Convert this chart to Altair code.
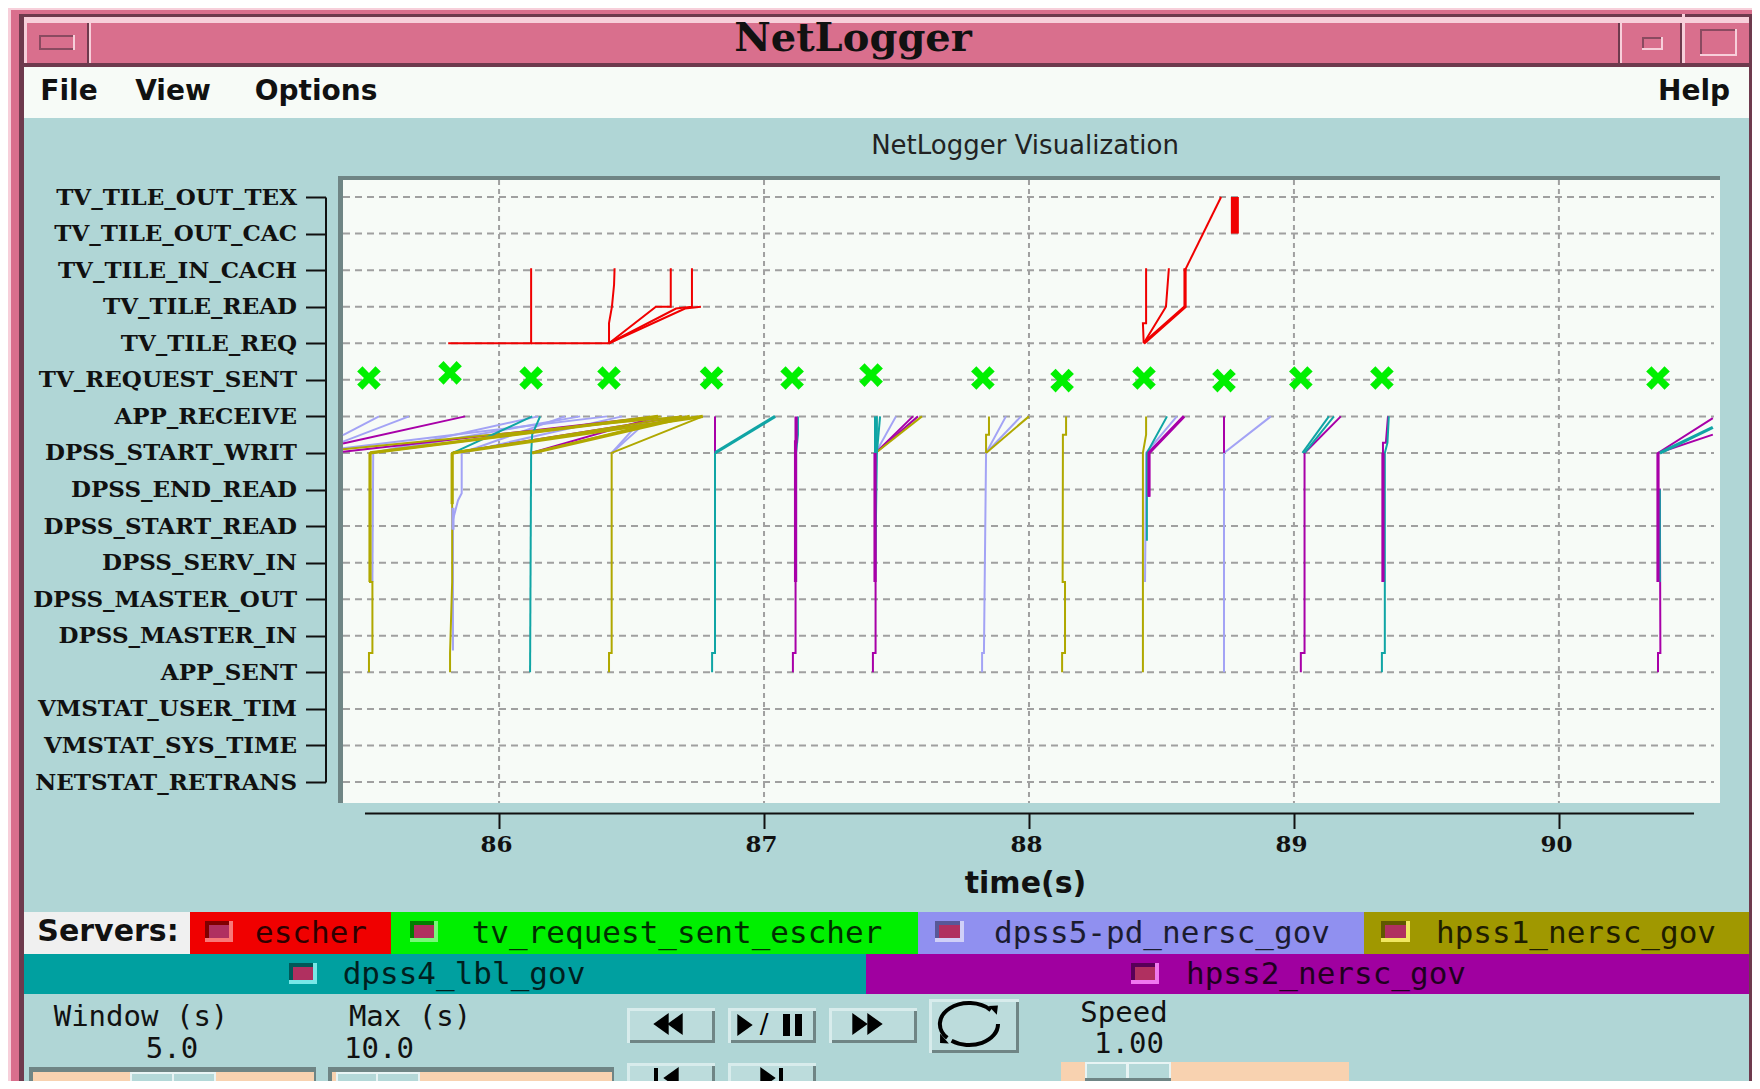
import json
import altair as alt
import pandas as pd

W, H = 1744, 1073
OFF = 8

categories = ["TV_TILE_OUT_TEX", "TV_TILE_OUT_CAC", "TV_TILE_IN_CACH", "TV_TILE_READ", "TV_TILE_REQ",
              "TV_REQUEST_SENT", "APP_RECEIVE", "DPSS_START_WRIT", "DPSS_END_READ", "DPSS_START_READ",
              "DPSS_SERV_IN", "DPSS_MASTER_OUT", "DPSS_MASTER_IN", "APP_SENT", "VMSTAT_USER_TIM",
              "VMSTAT_SYS_TIME", "NETSTAT_RETRANS"]
x_ticks = [86, 87, 88, 89, 90]

request_t = [85.509, 85.815, 86.121, 86.415, 86.802, 87.106, 87.404, 87.826, 88.125, 88.434, 88.736, 89.026, 89.332, 90.374]
request_row = [4.95, 4.81, 4.95, 4.95, 4.95, 4.95, 4.87, 4.95, 5.02, 4.95, 5.02, 4.95, 4.95, 4.95]

escher = [
    [(85.808, 4), (86.121, 4), (86.121, 1.95)],
    [(86.121, 4), (86.415, 4), (86.415, 3.45), (86.426, 3), (86.434, 2.4), (86.436, 1.95)],
    [(86.415, 4), (86.592, 3), (86.648, 3), (86.648, 1.95)],
    [(86.415, 4), (86.668, 3.05), (86.728, 3), (86.728, 1.95)],
    [(86.415, 4), (86.702, 3.05), (86.762, 3)],
    [(88.433, 4), (88.43, 3.45), (88.442, 3.45), (88.442, 1.95)],
    [(88.433, 4), (88.517, 3), (88.528, 1.95)],
    [(88.589, 2), (88.725, 0)],
]
escher_heavy = [
    [(88.433, 4), (88.589, 3), (88.589, 1.95)],
]
escher_bar = [
    [(88.777, 0), (88.777, 1)],
]

dpss5 = [
    [(85.411, 6.51), (85.547, 6)],
    [(85.411, 6.69), (85.660, 6)],
    [(85.411, 6.87), (86.408, 6)],
    [(85.525, 7), (86.147, 6)],
    [(85.525, 7), (86.306, 6)],
    [(85.859, 7), (86.249, 6)],
    [(85.859, 7), (86.464, 6)],
    [(86.425, 7), (86.58, 6)],
    [(86.425, 7), (86.55, 6)],
    [(85.522, 10.53), (85.525, 7)],
    [(85.826, 12.4), (85.826, 8.83), (85.845, 8.3), (85.859, 8.1), (85.859, 7)],
    [(87.823, 13), (87.823, 12.47), (87.830, 12.47), (87.838, 7), (87.913, 6)],
    [(87.838, 7), (87.970, 6)],
    [(87.421, 7), (87.498, 6)],
    [(88.438, 10.53), (88.442, 7), (88.558, 6)],
    [(88.736, 13), (88.736, 7), (88.913, 6)],
]
dpss5_heavy = [
    [(85.826, 9.1), (85.826, 8.5)],
]

hpss1 = [
    [(85.509, 13), (85.509, 12.47), (85.522, 12.47), (85.522, 10.53), (85.513, 10.53), (85.513, 7), (86.610, 6)],
    [(85.411, 6.9), (86.689, 6)],
    [(85.815, 13), (85.815, 12.47), (85.823, 10.53), (85.823, 7), (86.689, 6)],
    [(86.125, 7), (86.689, 6)],
    [(86.415, 13), (86.415, 12.47), (86.425, 12.47), (86.425, 7), (86.769, 6)],
    [(87.421, 7), (87.596, 6)],
    [(87.838, 7), (87.838, 6.5), (87.849, 6.5), (87.849, 6)],
    [(87.838, 7), (88.000, 6)],
    [(88.125, 13), (88.125, 12.47), (88.136, 12.47), (88.136, 10.53), (88.127, 10.53), (88.128, 7), (88.128, 6.5), (88.140, 6.5), (88.140, 6)],
    [(88.430, 13), (88.430, 7), (88.442, 6.5), (88.442, 6)],
]
hpss1_heavy = [
    [(85.513, 10.53), (85.513, 7)],
    [(85.823, 8.4), (85.823, 7)],
    [(85.826, 7), (86.769, 6)],
    [(85.513, 7), (86.60, 6)],
    [(86.125, 7), (86.72, 6)],
]

dpss4 = [
    [(85.826, 7), (86.125, 6)],
    [(86.121, 7), (86.125, 6.5), (86.155, 6)],
    [(86.117, 13), (86.121, 7)],
    [(86.804, 13), (86.804, 12.47), (86.815, 12.47), (86.815, 7)],
    [(87.121, 10.53), (87.121, 7), (87.128, 6.5), (87.128, 6)],
    [(87.419, 10.53), (87.426, 7), (87.426, 6)],
    [(87.426, 7), (87.438, 6)],
    [(88.445, 9.4), (88.445, 7), (88.521, 6)],
    [(89.032, 7), (89.132, 6)],
    [(89.040, 7), (89.151, 6)],
    [(89.332, 13), (89.332, 12.47), (89.343, 12.47), (89.343, 7), (89.353, 6.72), (89.358, 6)],
    [(90.381, 10.53), (90.381, 8)],
]
dpss4_heavy = [
    [(86.815, 7), (87.042, 6)],
    [(87.421, 7), (87.421, 6)],
    [(90.381, 7), (90.581, 6.3)],
]

hpss2 = [
    [(85.411, 6.74), (85.872, 6)],
    [(85.411, 6.97), (86.596, 6)],
    [(85.823, 7), (86.689, 6)],
    [(86.121, 7), (86.60, 6)],
    [(86.815, 7), (86.815, 6)],
    [(87.109, 13), (87.109, 12.47), (87.119, 12.47), (87.119, 7)],
    [(87.411, 13), (87.411, 12.47), (87.421, 12.47), (87.421, 7), (87.562, 6)],
    [(87.421, 7), (87.581, 6)],
    [(88.453, 8.2), (88.453, 7), (88.585, 6)],
    [(88.736, 7), (88.736, 6)],
    [(89.026, 13), (89.026, 12.47), (89.040, 12.47), (89.040, 7), (89.177, 6)],
    [(89.336, 10.53), (89.336, 6.72), (89.347, 6.72), (89.355, 6)],
    [(90.374, 13), (90.374, 12.47), (90.383, 12.47), (90.381, 8), (90.374, 8), (90.374, 7), (90.581, 6.05)],
    [(90.374, 7), (90.581, 6.5)],
]
hpss2_heavy = [
    [(87.119, 10.53), (87.119, 6.7), (87.121, 6.7), (87.121, 6)],
    [(87.419, 10.53), (87.419, 7)],
    [(88.453, 8.2), (88.453, 7), (88.585, 6)],
    [(89.336, 10.53), (89.336, 7)],
    [(90.374, 10.53), (90.374, 7)],
]

SERVERS = ["escher", "dpss5-pd_nersc_gov", "hpss2_nersc_gov", "hpss1_nersc_gov", "dpss4_lbl_gov"]
LINE_COLORS = ["#f00000", "#a3a3f5", "#a800a8", "#b0a800", "#10a5a5"]


def frame(groups):
    rows = []
    n = 0
    for server, traces in groups:
        for tr in traces:
            n += 1
            for i, (t, r) in enumerate(tr):
                rows.append({"server": server, "trace": n, "step": i, "t": t, "row": r})
    return pd.DataFrame(rows)


thin = frame([("dpss5-pd_nersc_gov", dpss5), ("hpss2_nersc_gov", hpss2), ("hpss1_nersc_gov", hpss1),
              ("dpss4_lbl_gov", dpss4), ("escher", escher)])
heavy = frame([("dpss5-pd_nersc_gov", dpss5_heavy), ("hpss2_nersc_gov", hpss2_heavy),
               ("hpss1_nersc_gov", hpss1_heavy), ("dpss4_lbl_gov", dpss4_heavy), ("escher", escher_heavy)])
bar = frame([("escher", escher_bar)])
stars = pd.DataFrame({"t": request_t, "row": request_row})
xgrid = pd.DataFrame({"t": x_ticks})
ygrid = pd.DataFrame({"row": list(range(len(categories)))})
xline = pd.DataFrame({"t": [85.494], "t2": [90.51], "row": [0]})

x_scale = alt.Scale(domain=[85.411, 90.608], range=[343 - OFF, 1720 - OFF], nice=False, zero=False)
y_scale = alt.Scale(domain=[0, 16], range=[197 - OFF, 782 - OFF], nice=False, zero=False)
label_expr = json.dumps(categories) + "[datum.value]"

x_axis = alt.Axis(values=x_ticks, format="d", grid=False, domain=False, orient="bottom",
                  offset=-(H - (813.5 - OFF)), tickSize=15, tickWidth=2, tickColor="#111111",
                  labelFont="DejaVu Serif", labelFontWeight="bold", labelFontSize=23, labelColor="#111111",
                  labelPadding=5, labelOffset=-3, labelOverlap=False,
                  title="time(s)", titleFont="DejaVu Sans", titleFontWeight="bold", titleFontSize=30,
                  titleColor="#111111", titleX=1025 - OFF, titleY=883 - 813.5, titleBaseline="middle",
                  titleAlign="center", titleAngle=0, zindex=1)
y_axis = alt.Axis(values=list(range(17)), labelExpr=label_expr, grid=False, orient="left",
                  offset=-(325.5 - OFF), tickSize=20, tickWidth=2, tickColor="#111111",
                  domainWidth=2, domainColor="#111111",
                  labelFont="DejaVu Serif", labelFontWeight="bold", labelFontSize=23, labelColor="#111111",
                  labelPadding=9, labelOverlap=False, labelLimit=0, title=None, zindex=1)

X = alt.X("t:Q", scale=x_scale, axis=x_axis)
Y = alt.Y("row:Q", scale=y_scale, axis=y_axis)
STROKE = alt.Color("server:N", scale=alt.Scale(domain=SERVERS, range=LINE_COLORS), legend=None)

# ---- window chrome, page pixels ----
PINK, PINK_D, PINK_L = "#d96f8d", "#6e3a4d", "#f7cfda"
TEAL, PAPER = "#b0d6d6", "#f7fbf7"
PEACH, HANDLE, EDGE = "#f8d2b0", "#b4d8d8", "#6f8585"
chrome_rects = [
    (7, 6, 1760, 1089, PINK),
    (7, 6, 1760, 10, PINK_L),
    (7, 6, 11, 1089, PINK_L),
    (19, 14, 1752, 1089, PINK_D),
    (24, 17, 1749, 23, PINK_L),
    (24, 23, 1749, 63, PINK),
    (19, 63, 1752, 67, PINK_D),
    (24, 67, 1749, 118, PAPER),
    (24, 118, 1749, 1089, TEAL),
    # title bar buttons
    (87, 23, 89, 63, PINK_D), (89, 17, 91, 63, PINK_L),
    (24, 23, 27, 63, PINK_L),
    (39, 35, 75, 37, "#8a4a60"), (39, 35, 41, 50, "#8a4a60"), (39, 48, 75, 50, "#8a4a60"), (73, 35, 75, 50, PINK_L),
    (1618, 23, 1620, 63, PINK_D), (1620, 23, 1622, 63, PINK_L),
    (1680, 23, 1682, 63, PINK_D), (1682, 14, 1685, 63, PINK_L),
    (1642, 37, 1663, 39, "#8a4a60"), (1642, 37, 1644, 50, "#8a4a60"), (1642, 48, 1663, 50, PINK_L), (1661, 37, 1663, 50, PINK_L),
    (1700, 29, 1737, 31, "#8a4a60"), (1700, 29, 1702, 56, "#8a4a60"), (1700, 54, 1737, 56, PINK_L), (1735, 29, 1737, 56, PINK_L),
    # plot area
    (338, 176, 1720, 803, EDGE),
    (343, 180, 1720, 803, PAPER),
    # server strip
    (24, 912, 190, 954, "#f0f0f0"),
    (190, 912, 391, 954, "#f00000"),
    (391, 912, 918, 954, "#00f000"),
    (918, 912, 1364, 954, "#9090f0"),
    (1364, 912, 1749, 954, "#a09800"),
    (24, 954, 866, 994, "#00a0a0"),
    (866, 954, 1749, 994, "#a000a0"),
    # toggles
    (205, 921, 233, 942, "#f87878"), (205, 921, 229, 938, "#800000"), (209, 925, 229, 938, "#b03060"),
    (410, 921, 438, 942, "#78f878"), (410, 921, 434, 938, "#008000"), (414, 925, 434, 938, "#b03060"),
    (935, 921, 964, 942, "#d0d0f8"), (935, 921, 960, 938, "#585898"), (939, 925, 960, 938, "#b03060"),
    (1381, 921, 1410, 942, "#f0e860"), (1381, 921, 1406, 938, "#605800"), (1385, 925, 1406, 938, "#b03060"),
    (289, 963, 317, 984, "#78e8e8"), (289, 963, 313, 980, "#005858"), (293, 967, 313, 980, "#b03060"),
    (1131, 963, 1159, 984, "#f078f0"), (1131, 963, 1155, 980, "#580058"), (1135, 967, 1155, 980, "#b03060"),
]


def button(x0, y0, x1, y1):
    return [(x0, y0, x1, y1, "#d8ecec"), (x0 + 3, y0 + 3, x1, y1, EDGE), (x0 + 3, y0 + 3, x1 - 3, y1 - 3, "#bcdcdc")]


for b in [(627, 1008, 715, 1043), (728, 1008, 816, 1043), (829, 1008, 917, 1043),
          (627, 1063, 715, 1096), (728, 1063, 816, 1096), (929, 999, 1019, 1053)]:
    chrome_rects += button(*b)

chrome_rects += [
    # play / pause bars and step bars
    (783, 1014, 790, 1036, "#000000"), (795, 1014, 802, 1036, "#000000"),
    (654, 1068, 658, 1089, "#000000"), (779, 1068, 783, 1089, "#000000"),
    # sliders
    (29, 1067, 316, 1089, EDGE), (33, 1072, 314, 1089, PEACH), (130, 1072, 216, 1089, "#e8f4f4"),
    (132, 1074, 172, 1089, HANDLE), (174, 1074, 214, 1089, HANDLE),
    (328, 1067, 614, 1089, EDGE), (332, 1072, 612, 1089, PEACH), (336, 1072, 420, 1089, "#e8f4f4"),
    (338, 1074, 376, 1089, HANDLE), (378, 1074, 418, 1089, HANDLE),
    (1061, 1062, 1349, 1083, PEACH), (1085, 1062, 1171, 1083, "#e8f4f4"),
    (1087, 1064, 1126, 1078, HANDLE), (1129, 1064, 1169, 1078, HANDLE), (1085, 1078, 1171, 1083, EDGE),
]
rect_df = pd.DataFrame([{"x0": a - OFF, "y0": b - OFF, "x1": c - OFF, "y1": d - OFF, "c": e}
                        for a, b, c, d, e in chrome_rects])
chrome = alt.Chart(rect_df).mark_rect().encode(
    x=alt.X("x0:Q", scale=None, axis=None), x2="x1:Q",
    y=alt.Y("y0:Q", scale=None, axis=None), y2="y1:Q",
    fill=alt.Fill("c:N", scale=None), order=alt.Order("idx:Q")
).transform_window(idx="row_number()")


def txt(items, font, size, weight="normal", color="#000000", opacity=1.0):
    df = pd.DataFrame([{"px": x - OFF, "py": y - OFF, "label": s} for x, y, s in items])
    return alt.Chart(df).mark_text(font=font, fontSize=size, fontWeight=weight, color=color, opacity=opacity,
                                   align="center", baseline="middle").encode(
        x=alt.X("px:Q", scale=None, axis=None), y=alt.Y("py:Q", scale=None, axis=None), text="label:N")


texts = [
    txt([(853, 39, "NetLogger")], "DejaVu Serif", 40, "bold", "#111111"),
    txt([(69, 92, "File"), (173, 92, "View"), (316, 92, "Options"), (1694, 92, "Help")], "DejaVu Sans", 28, "bold", "#111111"),
    txt([(1025, 146, "NetLogger Visualization")], "DejaVu Sans", 26, "normal", "#222222"),
    txt([(108, 932, "Servers:")], "DejaVu Sans", 30, "bold", "#111111"),
    txt([(311, 934, "escher"), (677, 934, "tv_request_sent_escher"), (1162, 934, "dpss5-pd_nersc_gov"),
         (1576, 934, "hpss1_nersc_gov"), (464, 975, "dpss4_lbl_gov"), (1326, 975, "hpss2_nersc_gov")],
        "DejaVu Sans Mono", 31, "normal", "#000000", 0.8),
    txt([(141, 1017, "Window (s)"), (172, 1049, "5.0"), (410, 1017, "Max (s)"), (379, 1049, "10.0"),
         (1124, 1013, "Speed"), (1129, 1044, "1.00")], "DejaVu Sans Mono", 29, "normal", "#111111"),
    txt([(764, 1025, "/")], "DejaVu Sans", 26, "normal", "#000000"),
]

LEFT_TRI = "M.7,-1L-.7,0L.7,1Z"
RIGHT_TRI = "M-.7,-1L.7,0L-.7,1Z"
icon_sets = [
    (LEFT_TRI, 484, [(661, 1024), (675, 1024), (671, 1078)]),
    (RIGHT_TRI, 484, [(745, 1025), (860, 1024), (875, 1024), (768, 1078)]),
    ("M-.8,-.9L.9,-1L.7,.7Z", 120, [(993, 1011)]),
    ("M-.9,-.8L.7,1L-.9,.9Z", 120, [(945, 1038)]),
]
icons = []
for path, sz, pts in icon_sets:
    d = pd.DataFrame([{"px": a - OFF, "py": b - OFF} for a, b in pts])
    icons.append(alt.Chart(d).mark_point(shape=path, size=sz, filled=True, color="#000000", opacity=1).encode(
        x=alt.X("px:Q", scale=None, axis=None), y=alt.Y("py:Q", scale=None, axis=None)))
loop_df = pd.DataFrame({"px": [969 - OFF], "py": [1024 - OFF]})
loop = alt.Chart(loop_df).mark_point(
    shape="M.75,-.48A1,.72 0 1 0 -.75,.48M-.6,.58A1,.72 0 0 0 1,0", size=3364, filled=False,
    color="#000000", strokeWidth=4, opacity=1).encode(
    x=alt.X("px:Q", scale=None, axis=None), y=alt.Y("py:Q", scale=None, axis=None))

# ---- plot ----
grid_h = alt.Chart(ygrid).mark_rule(color="#a0a0a0", strokeWidth=2, strokeDash=[7, 5]).encode(
    y=Y, x=alt.value(343 - OFF), x2=alt.value(1714 - OFF))
grid_v = alt.Chart(xgrid).mark_rule(color="#a0a0a0", strokeWidth=2, strokeDash=[5, 4]).encode(
    x=X, y=alt.value(180 - OFF), y2=alt.value(803 - OFF))
axis_line = alt.Chart(xline).mark_rule(color="#111111", strokeWidth=2).encode(
    x=alt.X("t:Q", scale=x_scale, axis=x_axis), x2="t2:Q", y=alt.value(813.5 - OFF))


def lines(df, width):
    return alt.Chart(df).mark_line(strokeWidth=width, interpolate="linear").encode(
        x=X, y=Y, color=STROKE, detail="trace:N", order="step:Q")


star_path = ("M-1,-.55L-.55,-1L0,-.42L.55,-1L1,-.55L.42,0L1,.55L.55,1L0,.42L-.55,1L-1,.55L-.42,0Z")
star = alt.Chart(stars).mark_point(shape=star_path, size=560, filled=True, color="#00f000", opacity=1).encode(x=X, y=Y)

chart = alt.layer(
    chrome, grid_h, grid_v, axis_line, lines(thin, 2), lines(heavy, 3.2), lines(bar, 8), star,
    *texts, *icons, loop
).properties(width=W, height=H, padding=0, autosize=alt.AutoSizeParams(type="none"), background="white"
).configure_view(stroke=None)

chart.save("out.html", embed_options={"renderer": "svg", "actions": False})
